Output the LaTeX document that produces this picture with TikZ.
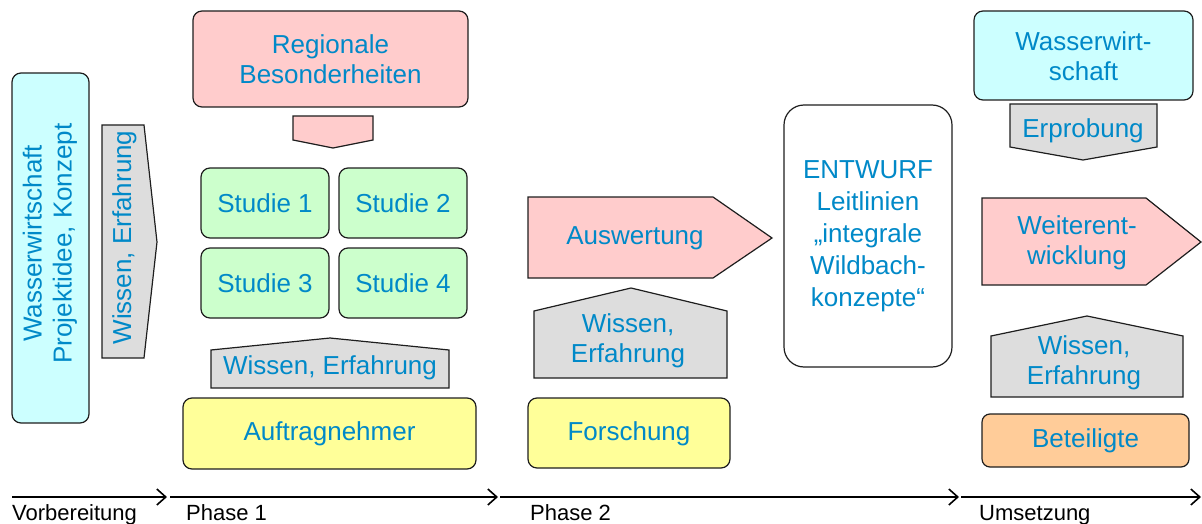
\documentclass[tikz,border=0pt]{standalone}
\usepackage{fontspec}
\setmainfont{Liberation Sans}
\usetikzlibrary{arrows.meta}
\definecolor{txtblue}{RGB}{0,137,200}
\definecolor{pinkf}{RGB}{255,204,204}
\definecolor{greenf}{RGB}{204,255,204}
\definecolor{cyanf}{RGB}{204,255,255}
\definecolor{yellowf}{RGB}{255,255,153}
\definecolor{orangef}{RGB}{255,204,153}
\definecolor{grayf}{RGB}{221,221,221}
\definecolor{edge}{RGB}{30,30,30}
\begin{document}
\begin{tikzpicture}[x=1pt,y=-1pt,
  bigfont/.style={font=\fontsize{26}{30}\selectfont},
  box/.style={draw=edge, line width=1.2pt, rounded corners=9pt, inner sep=0pt},
  shp/.style={draw=edge, line width=1.2pt, fill=grayf, line join=miter},
  lbl/.style={text=txtblue, bigfont, align=center, inner sep=0pt, yshift=-0.5pt},
  axis/.style={line width=1.6pt, -{Straight Barb[length=9pt,width=16pt,line width=1.6pt]}},
  axlbl/.style={font=\fontsize{22}{26}\selectfont, anchor=base west, inner sep=0pt}
]
\useasboundingbox (0,0) rectangle (1202,524);

% Vorbereitung
\node[box, fill=cyanf, minimum width=77, minimum height=350] (wwl) at (50.5,248) {};
\node[lbl, rotate=90, yshift=0.5pt, xshift=5pt] (wwlt) at (wwl.center) {Wasserwirtschaft\\Projektidee, Konzept};
\draw[shp] (102,125) -- (144,125) -- (157,242) -- (144,358) -- (102,358) -- cycle;
\node[lbl, rotate=90, yshift=0.5pt, xshift=5pt] (wel) at (125,242) {Wissen, Erfahrung};

% Phase 1
\node[box, fill=pinkf, minimum width=275, minimum height=96] (reg) at (330.5,59) {};
\node[lbl] (regt) at (reg.center) {Regionale\\Besonderheiten};
\draw[shp, fill=pinkf] (293,116) -- (373,116) -- (373,140) -- (333,148) -- (293,140) -- cycle;
\node[box, fill=greenf, minimum width=128, minimum height=70] (s1) at (265,203) {};
\node[box, fill=greenf, minimum width=128, minimum height=70] (s2) at (403,203) {};
\node[box, fill=greenf, minimum width=128, minimum height=70] (s3) at (265,283) {};
\node[box, fill=greenf, minimum width=128, minimum height=70] (s4) at (403,283) {};
\node[lbl] (s1t) at (s1.center) {Studie 1};
\node[lbl] (s2t) at (s2.center) {Studie 2};
\node[lbl] (s3t) at (s3.center) {Studie 3};
\node[lbl] (s4t) at (s4.center) {Studie 4};
\draw[shp] (211,388) -- (211,350) -- (330,338) -- (449,350) -- (449,388) -- cycle;
\node[lbl] (we1) at (330,367) {Wissen, Erfahrung};
\node[box, fill=yellowf, minimum width=293, minimum height=71] (auf) at (329.5,433.5) {};
\node[lbl] (auft) at (auf.center) {Auftragnehmer};

% Phase 2
\draw[shp, fill=pinkf] (528,197) -- (713,197) -- (772,238) -- (713,278) -- (528,278) -- cycle;
\node[lbl] (ausw) at (635,238) {Auswertung};
\draw[shp] (534,378) -- (534,311) -- (631,288) -- (727,311) -- (727,378) -- cycle;
\node[lbl] (we2) at (628,340) {Wissen,\hspace{6pt}\\Erfahrung};
\node[box, fill=yellowf, minimum width=202, minimum height=70] (for) at (629,433) {};
\node[lbl] (fort) at (for.center) {Forschung};

% Entwurf
\node[box, fill=white, rounded corners=20pt, minimum width=168, minimum height=262] (ent) at (868,236) {};
\node[lbl, font=\fontsize{26}{32}\selectfont] (entt) at (ent.center)
  {ENTWURF\\Leitlinien\\„integrale\\Wildbach-\\konzepte“};

% Umsetzung
\node[box, fill=cyanf, minimum width=219, minimum height=89] (wwr) at (1083.5,55.5) {};
\node[lbl] (wwrt) at (wwr.center) {Wasserwirt-\\schaft};
\draw[shp] (1010,104) -- (1157,104) -- (1157,147) -- (1083,160) -- (1010,147) -- cycle;
\node[lbl] (erp) at (1083,130) {Erprobung};
\draw[shp, fill=pinkf] (982,198) -- (1146,198) -- (1201,242) -- (1146,285) -- (982,285) -- cycle;
\node[lbl] (wei) at (1077,242) {Weiterent-\\wicklung};
\draw[shp] (991,397) -- (991,336) -- (1087,316) -- (1183,336) -- (1183,397) -- cycle;
\node[lbl] (we3) at (1084,362) {Wissen,\hspace{6pt}\\Erfahrung};
\node[box, fill=orangef, rounded corners=8pt, minimum width=207, minimum height=53] (bet) at (1085.5,440.5) {};
\node[lbl] (bett) at (bet.center) {Beteiligte};

% axis
\coordinate (a0) at (12,497);
\coordinate (a1) at (167,497);
\coordinate (a1b) at (170,497);
\coordinate (a2) at (498,497);
\coordinate (a2b) at (500,497);
\coordinate (a3) at (959,497);
\coordinate (a3b) at (961,497);
\coordinate (a4) at (1201,497);
\draw[axis] (a0) -- (a1);
\draw[axis] (a1b) -- (a2);
\draw[axis] (a2b) -- (a3);
\draw[axis] (a3b) -- (a4);
\node[axlbl] (lv) at (12,520) {Vorbereitung};
\node[axlbl] (lp1) at (186,520) {Phase 1};
\node[axlbl] (lp2) at (530,520) {Phase 2};
\node[axlbl] (lu) at (979,520) {Umsetzung};
\end{tikzpicture}
\end{document}
